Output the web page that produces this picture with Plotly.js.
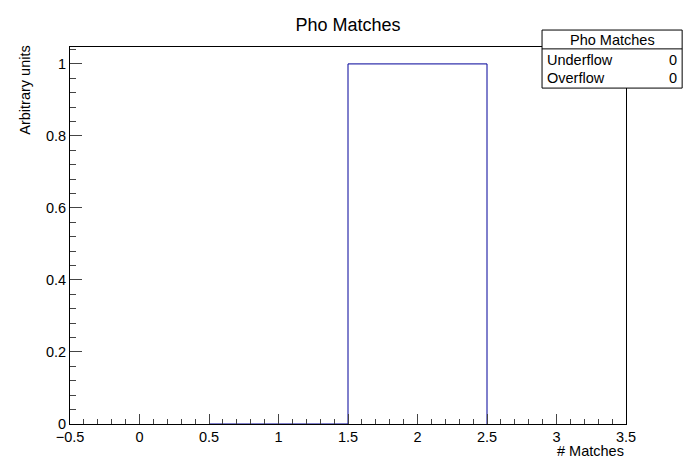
<!DOCTYPE html>
<html><head><script src="https://cdn.plot.ly/plotly-3.0.1.min.js"></script>
<style>body{margin:0}</style></head>
<body><div id="plot" style="width:696px;height:472px"></div>
<script>
const binEdges = [-0.5, 0.5, 1.5, 2.5, 3.5];
const binContents = [0, 0, 1, 0];
const statsLabels = ["Underflow", "Overflow"];
const statsValues = [0, 0];

// ROOT draws the step outline from the first to the last filled region
const stepX = binEdges.slice(1, 4);
const stepY = binContents.slice(1, 4);

const font = { family: "Liberation Sans, Arial", size: 14.5, color: "#000" };

const trace = {
    x: stepX, y: stepY, mode: "lines",
    line: { shape: "hv", color: "#000099", width: 1 },
    hoverinfo: "none", showlegend: false,
};

const ann = [
    { text: "# Matches", xref: "paper", yref: "paper", x: 1, y: -0.045, xanchor: "right", yanchor: "top", showarrow: false, font },
    { text: "Arbitrary units", xref: "paper", yref: "paper", x: -0.081, y: 1.01, xanchor: "center", yanchor: "top", textangle: -90, showarrow: false, font },
    { text: "Pho Matches", xref: "paper", yref: "paper", x: 0.975, y: 1.019, xanchor: "center", yanchor: "middle", showarrow: false, font },
];
const shapes = [
    { type: "rect", xref: "paper", yref: "paper", x0: 0.849, x1: 1.101, y0: 0.891, y1: 1.045, line: { color: "#000", width: 1 }, fillcolor: "#fff" },
    { type: "line", xref: "paper", yref: "paper", x0: 0.849, x1: 1.101, y0: 0.995, y1: 0.995, line: { color: "#000", width: 1 } },
];
statsLabels.forEach((l, i) => {
    const y = 0.966 - i * 0.048;
    ann.push({ text: l, xref: "paper", yref: "paper", x: 0.855, y, xanchor: "left", yanchor: "middle", showarrow: false, font });
    ann.push({ text: String(statsValues[i]), xref: "paper", yref: "paper", x: 1.095, y, xanchor: "right", yanchor: "middle", showarrow: false, font });
});

const layout = {
    width: 696, height: 472,
    margin: { l: 70, r: 70, t: 47, b: 48 },
    paper_bgcolor: "#fff", plot_bgcolor: "#fff",
    title: { text: "Pho Matches", x: 0.5, y: 0.962, font: { ...font, size: 18 } },
    font,
    xaxis: {
        range: [-0.5, 3.5], dtick: 0.5, tick0: -0.5, ticks: "inside", ticklen: 10,
        minor: { dtick: 0.1, ticks: "inside", ticklen: 5 },
        showline: true, mirror: true, linecolor: "#000", showgrid: false, zeroline: false,
        tickfont: font,
    },
    yaxis: {
        range: [0, 1.047], dtick: 0.2, ticks: "inside", ticklen: 12,
        minor: { dtick: 0.04, ticks: "inside", ticklen: 6 },
        showline: true, mirror: true, linecolor: "#000", showgrid: false, zeroline: false,
        tickfont: font,
    },
    annotations: ann,
    shapes,
};
Plotly.newPlot("plot", [trace], layout, { displayModeBar: false });
</script></body></html>
